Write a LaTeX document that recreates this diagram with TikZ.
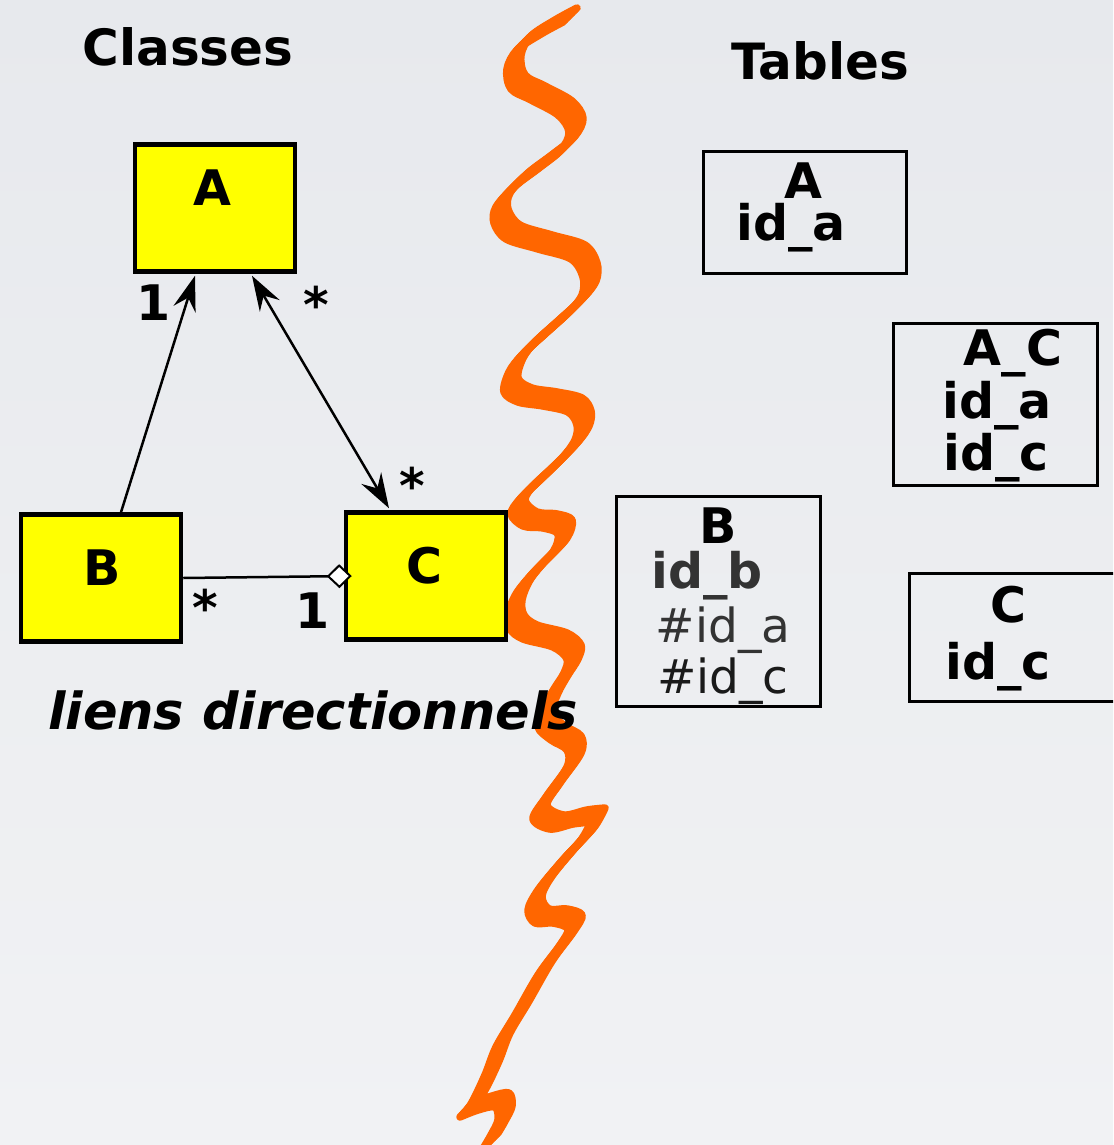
\documentclass[tikz,border=0pt]{standalone}
\usepackage{fontspec}
\setmainfont{DejaVu Sans}
\usetikzlibrary{arrows.meta}
\definecolor{paperTop}{RGB}{231,233,237}
\definecolor{paperBottom}{RGB}{241,242,244}
\definecolor{rupture}{RGB}{255,102,0}
\definecolor{classYellow}{RGB}{255,255,0}
\definecolor{keyGrey}{RGB}{51,51,51}
\definecolor{fkDark}{RGB}{26,26,26}

\begin{document}
\begin{tikzpicture}[x=1pt,y=-1pt,
  txt/.style={anchor=base, inner sep=0pt, font=\fontsize{49}{49}\selectfont\bfseries},
  heading/.style={anchor=base, inner sep=0pt, font=\fontsize{50}{50}\selectfont\bfseries},
  fk/.style={anchor=base, inner sep=0pt, font=\fontsize{47}{47}\selectfont},
  classbox/.style={draw=black, line width=4.5pt, fill=classYellow,
                   minimum width=160pt, minimum height=127pt, inner sep=0pt},
  tablebox/.style={draw=black, line width=3.2pt, inner sep=0pt},
  assoc/.style={draw=black, line width=2.5pt},
  >={Stealth[length=35pt, width=23pt, inset=12pt]},
  ribbon/.style={draw=rupture, line width=7.5pt, line cap=round, line join=round}
]
\useasboundingbox (0,0) rectangle (1113,1145);
\clip (0,0) rectangle (1113,1145);

% paper
\shade[top color=paperTop, bottom color=paperBottom] (0,0) rectangle (1113,1145);

% the orange tear line, drawn with a slanted broad nib
\foreach \s in {-7pt,-5.6pt,-4.2pt,-2.8pt,-1.4pt,0pt,1.4pt,2.8pt,4.2pt,5.6pt,7pt}{
  \draw[ribbon, xshift=\s, yshift=\s]
    plot[smooth, tension=0.55] coordinates {
      (570,15) (548,27) (524,43) (514,62) (518,82) (538,93) (565,108)
      (576,125) (568,143) (546,161) (521,180) (503,200) (501,216)
      (513,232) (545,242) (578,252) (590,270) (589,288) (576,305)
      (552,327) (529,348) (516,365) (511,385) (525,395) (550,399)
      (575,405) (584,418) (582,433) (570,450) (546,474) (527,492)
      (518,507) (530,519) (550,521) (565,527) (560,545) (539,567)
      (523,587) (515,607) (517,622) (530,632) (560,640) (574,652)
      (571,666) (561,682) (551,700) (545,720) (558,733) (574,743)
      (574,760) (553,790) (540,812) (557,822) (580,817) (598,815)}
    plot[smooth, tension=0.55] coordinates {
      (598,815) (588,833) (568,855) (545,883) (535,903) (542,916)
      (560,916) (575,922) (567,938) (545,968) (522,1008) (503,1040)
      (492,1068) (478,1097) (467,1110)}
    plot[smooth, tension=0.55] coordinates {
      (467,1110) (485,1103) (502,1100) (505,1113) (498,1128) (491,1140)};
}

% headings
\node[heading] (hClasses) at (188,66) {Classes};
\node[heading] (hTables) at (820,80) {Tables};

% UML classes
\node[classbox] (clsA) at (215,208) {};
\node[classbox] (clsB) at (101,578) {};
\node[classbox] (clsC) at (426,576) {};
\node[txt] (nameA) at (212,205) {A};
\node[txt] (nameB) at (102,585) {B};
\node[txt] (nameC) at (424,583) {C};

% associations
\draw[assoc, ->] ([xshift=20pt]clsB.north) -- ([xshift=-20pt, yshift=-2pt]clsA.south);
\draw[assoc, <->] ([xshift=37pt, yshift=-2pt]clsA.south) -- ([xshift=-37pt, yshift=2pt]clsC.north);
\draw[assoc, -{Diamond[length=25pt, width=24pt, fill=white, line width=2pt]}]
  (clsB.east) -- ([xshift=8pt]clsC.west);

% multiplicities
\node[txt] (mBA) at (154,320) {1};
\node[txt] (mAC1) at (316,322) {*};
\node[txt] (mAC2) at (412,503) {*};
\node[txt] (mBC1) at (205,625) {*};
\node[txt] (mBC2) at (313,628) {1};

\node[anchor=base, inner sep=0pt, font=\fontsize{51}{51}\selectfont\bfseries\itshape]
  (caption) at (313,729) {liens directionnels};

% relational tables
\node[tablebox, minimum width=203pt, minimum height=122pt] (tA) at (805,212.5) {};
\node[txt] (tAname) at (803,198) {A};
\node[txt] (tAid) at (791,240) {id\_a};

\node[tablebox, minimum width=204pt, minimum height=162pt] (tAC) at (995.5,404.5) {};
\node[txt] (tACname) at (1013,365) {A\_C};
\node[txt] (tACa) at (997,418) {id\_a};
\node[txt] (tACc) at (996,470) {id\_c};

\node[tablebox, minimum width=204pt, minimum height=210pt] (tB) at (718.5,601.5) {};
\node[txt] (tBname) at (718,543) {B};
\node[txt, text=keyGrey] (tBid) at (707,588) {id\_b};
\node[fk, text=keyGrey] (tBfa) at (723,642) {\#id\_a};
\node[fk, text=fkDark] (tBfc) at (723,693) {\#id\_c};

\node[tablebox, minimum width=220pt, minimum height=128pt] (tC) at (1019.5,637.5) {};
\node[txt] (tCname) at (1008,622) {C};
\node[txt] (tCid) at (998,679) {id\_c};
\end{tikzpicture}
\end{document}
